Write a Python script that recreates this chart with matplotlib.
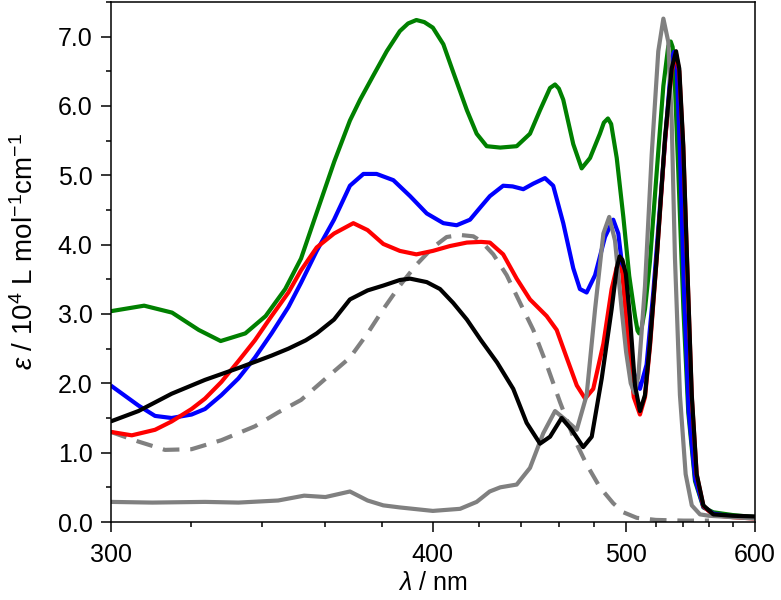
import numpy as np
import matplotlib
matplotlib.use('Agg')
import matplotlib.pyplot as plt
from matplotlib.ticker import MultipleLocator, FormatStrFormatter

plt.rcParams['font.family'] = ['Liberation Sans', 'DejaVu Sans']
plt.rcParams['mathtext.fontset'] = 'custom'
plt.rcParams['mathtext.rm'] = 'Liberation Sans'
plt.rcParams['mathtext.it'] = 'Liberation Sans:italic'

# spectra: wavelength (nm) / epsilon (10^4 L mol-1 cm-1)
green_wl = [300, 308, 315, 322, 328, 335, 341, 347, 352, 357, 363, 368.4, 372, 376.8, 381.8,
            386.8, 390, 393.3, 396.5, 400, 404.4, 408.6, 414.6, 419, 423.6, 430, 438, 444.7,
            449.9, 455.2, 457.9, 460, 462.4, 468, 472.8, 477.7, 483.6, 486, 488.5, 490.5, 494,
            498.2, 502, 505.8, 507.5, 508.6, 510.2, 512.5, 515.9, 520.6, 525.3, 528.8, 530.6,
            532, 533, 536.2, 540, 543.7, 548.9, 555.5, 563.5, 580, 600]
green_eps = [3.04, 3.12, 3.02, 2.77, 2.61, 2.72, 2.97, 3.36, 3.80, 4.45, 5.20, 5.79, 6.09, 6.44, 6.79,
             7.08, 7.19, 7.24, 7.21, 7.13, 6.89, 6.49, 5.94, 5.60, 5.42, 5.40, 5.42, 5.60,
             5.94, 6.26, 6.31, 6.25, 6.09, 5.45, 5.10, 5.25, 5.60, 5.76, 5.82, 5.74, 5.25,
             4.40, 3.55, 2.97, 2.76, 2.72, 2.80, 3.07, 3.76, 5.05, 6.29, 6.86, 6.93,
             6.85, 6.64, 5.05, 3.07, 1.58, 0.59, 0.21, 0.14, 0.10, 0.07]

blue_wl = [300, 306.6, 310.7, 314.9, 320.1, 323.7, 328.2, 333, 337.8, 342.8, 348, 352, 357.1,
           362.9, 368.4, 373.2, 378, 384.3, 390.8, 397.5, 404.4, 410.1, 416, 421, 425.1, 431.4,
           436, 441.3, 446.4, 452.5, 456.9, 462.4, 468, 471.8, 475.7, 480.7, 486.7, 491.8, 495,
           498.2, 501.4, 504.7, 509.1, 513.6, 518.2, 522.9, 527.7, 531.3, 533, 535, 537.5,
           540.5, 544, 549, 555.5, 563.5, 580, 600]
blue_eps = [1.97, 1.68, 1.53, 1.50, 1.55, 1.63, 1.83, 2.07, 2.37, 2.72, 3.10, 3.45, 3.91,
            4.36, 4.85, 5.02, 5.02, 4.93, 4.70, 4.45, 4.31, 4.28, 4.36, 4.55, 4.70, 4.85,
            4.84, 4.80, 4.88, 4.96, 4.85, 4.31, 3.66, 3.36, 3.31, 3.56, 4.11, 4.36, 4.16,
            3.56, 2.65, 2.17, 1.92, 2.27, 3.31, 4.55, 5.79, 6.69, 6.78, 6.55, 5.30,
            3.30, 1.60, 0.62, 0.22, 0.12, 0.08, 0.06]

red_wl = [300, 305, 310.7, 314.9, 320.1, 323.7, 328.2, 333, 337.8, 342.8, 348, 352, 357.1,
          362.9, 369.6, 374.7, 380.5, 386.8, 393.3, 400, 407.2, 414.6, 421, 425.1, 431.4, 438,
          444.7, 453.4, 458.8, 464.3, 470, 474.8, 479.6, 485.7, 490.8, 494.5, 497.5, 501.4,
          505, 509.1, 512.5, 516, 520.6, 526.5, 531.3, 534.5, 536.9, 539.9, 542.9, 546.4,
          550.2, 555.5, 563.5, 580, 600]
red_eps = [1.30, 1.25, 1.33, 1.45, 1.63, 1.78, 2.02, 2.32, 2.62, 2.97, 3.31, 3.63, 3.96,
           4.16, 4.31, 4.21, 4.01, 3.91, 3.86, 3.91, 3.98, 4.03, 4.04, 4.03, 3.86, 3.51,
           3.21, 2.97, 2.77, 2.37, 1.97, 1.78, 1.92, 2.57, 3.36, 3.72, 3.60, 2.57,
           1.80, 1.55, 1.80, 2.55, 3.80, 5.50, 6.50, 6.75, 6.50, 5.40, 3.70, 1.80,
           0.68, 0.23, 0.10, 0.07, 0.05]

black_wl = [300, 306.6, 314.9, 323.7, 333, 342.8, 348, 353.5, 357.1, 362.9, 368.4, 374.7, 380.5,
            386.8, 390.8, 397.5, 403, 408.6, 414.6, 421, 428.5, 436.3, 443, 449.9, 455.2, 461.5,
            467.1, 473.7, 478.7, 484.7, 490.8, 494, 495.8, 497.6, 499.8, 502.5, 505.8, 509.1,
            512.5, 515.9, 520.6, 526.5, 531.3, 534.5, 536.9, 539.9, 542.9, 546.4, 550.2, 555.5,
            563.5, 580, 600]
black_eps = [1.45, 1.60, 1.85, 2.05, 2.22, 2.40, 2.50, 2.62, 2.72, 2.92, 3.21, 3.34, 3.41,
             3.49, 3.51, 3.46, 3.36, 3.16, 2.92, 2.62, 2.30, 1.92, 1.43, 1.13, 1.23, 1.50,
             1.33, 1.08, 1.23, 2.07, 3.07, 3.66, 3.83, 3.78, 3.58, 2.95, 1.97, 1.60,
             1.83, 2.57, 3.81, 5.55, 6.54, 6.79, 6.54, 5.43, 3.71, 1.83, 0.69, 0.24,
             0.11, 0.09, 0.08]

gray_wl = [300, 310, 323.7, 333, 344.8, 353, 360, 368.4, 374.7, 380.5, 386.8, 400, 411.6, 419,
           425, 430, 438, 444.7, 451.6, 457.9, 463.4, 470, 475.7, 480.7, 485.7, 489.3, 492.9,
           497.1, 500, 503, 505.5, 508, 512.5, 517.1, 521.7, 525.3, 528.8, 531.3, 533.7, 537.4,
           541.7, 546.4, 552.8, 560, 600]
gray_eps = [0.29, 0.28, 0.29, 0.28, 0.31, 0.38, 0.36, 0.44, 0.31, 0.24, 0.21, 0.16, 0.19, 0.29,
            0.44, 0.50, 0.54, 0.78, 1.28, 1.60, 1.48, 1.33, 1.83, 3.07, 4.16, 4.40, 4.06,
            3.07, 2.45, 2.00, 1.86, 2.10, 3.40, 5.30, 6.79, 7.26, 6.93, 5.79, 3.81, 1.83,
            0.69, 0.24, 0.11, 0.09, 0.05]

dash_wl = [300, 306.6, 313.2, 320.1, 328.2, 337.8, 344.8, 352, 360.1, 368.4, 374.7, 380.5, 386.8,
           393.3, 400, 405.8, 411.6, 417.5, 421, 426.7, 433.1, 439.7, 446.4, 453.4, 460.6, 468,
           475.7, 483.6, 491.8, 498.2, 507, 520, 540, 560]
dash_eps = [1.30, 1.16, 1.04, 1.05, 1.18, 1.38, 1.58, 1.76, 2.07, 2.37, 2.72, 3.07, 3.41,
            3.71, 3.96, 4.11, 4.14, 4.12, 4.05, 3.86, 3.56, 3.16, 2.77, 2.27, 1.73, 1.23,
            0.83, 0.50, 0.27, 0.14, 0.06, 0.03, 0.02, 0.02]


# axis is linear in wavenumber
def fwd(x):
    x = np.asarray(x, dtype=float)
    with np.errstate(divide='ignore'):
        return -1.0 / x


def inv(y):
    y = np.asarray(y, dtype=float)
    with np.errstate(divide='ignore'):
        return -1.0 / y


fig = plt.figure(figsize=(7.81, 6.0), dpi=100)
ax = fig.add_axes([0.1417, 0.13, 0.825, 0.8667])
ax.set_xscale('function', functions=(fwd, inv))

kw = dict(lw=3, solid_joinstyle='round', solid_capstyle='butt')
ax.plot(dash_wl, dash_eps, color='#808080', lw=3, linestyle=(0, (4, 2.6)))
ax.plot(green_wl, green_eps, color='#008000', **kw)
ax.plot(blue_wl, blue_eps, color='#0000ff', **kw)
ax.plot(red_wl, red_eps, color='#ff0000', **kw)
ax.plot(gray_wl, gray_eps, color='#808080', **kw)
ax.plot(black_wl, black_eps, color='black', **kw)

ax.set_xlim(300, 600)
ax.set_ylim(0, 7.5)
ax.xaxis.set_major_locator(MultipleLocator(100))
ax.xaxis.set_minor_locator(MultipleLocator(20))
ax.yaxis.set_major_locator(MultipleLocator(1.0))
ax.yaxis.set_minor_locator(MultipleLocator(0.5))
ax.yaxis.set_major_formatter(FormatStrFormatter('%.1f'))

ax.tick_params(which='both', direction='out', width=1.1, labelsize=18)
ax.tick_params(which='major', length=7)
ax.tick_params(which='minor', length=3.6)
ax.tick_params(axis='x', pad=8)
ax.tick_params(axis='y', pad=6)
for s in ax.spines.values():
    s.set_linewidth(1.1)

ax.set_xlabel(r'$\lambda$ / nm', fontsize=18, labelpad=3)
ax.set_ylabel(r'$\varepsilon$ / 10$^4$ L mol$^{-1}$cm$^{-1}$', fontsize=20)
ax.yaxis.set_label_coords(-0.112, 0.52)

fig.savefig('out.png', dpi=100)
